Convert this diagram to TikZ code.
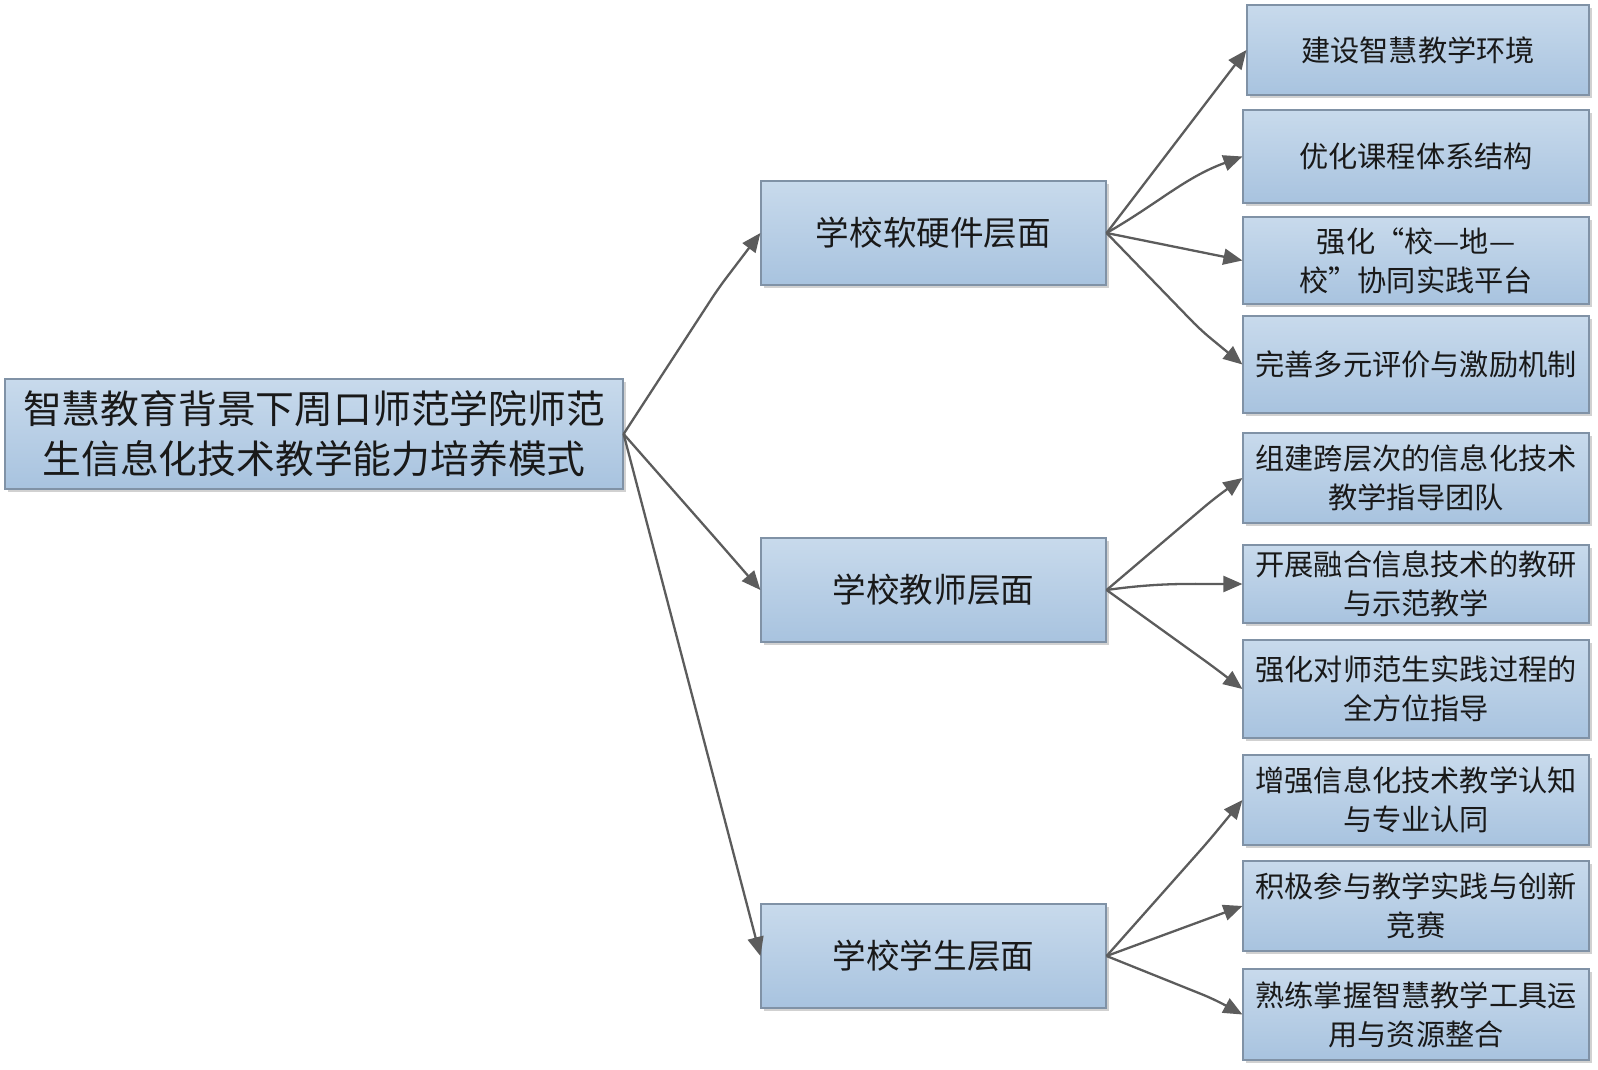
\documentclass[tikz,border=0pt]{standalone}
\usepackage{fontspec}
\newfontfamily\cjk{Noto Sans CJK SC}
\usetikzlibrary{arrows.meta,shadows,calc}
\definecolor{boxtop}{RGB}{200,218,236}
\definecolor{boxbot}{RGB}{168,195,223}
\definecolor{boxline}{RGB}{128,146,166}
\definecolor{arrcol}{RGB}{92,92,92}
\definecolor{txtcol}{RGB}{25,25,25}
\tikzset{
  boxbase/.style={draw=boxline, line width=0.6pt, top color=boxtop, bottom color=boxbot,
    rectangle, inner sep=0pt, align=center, text=txtcol,
    drop shadow={shadow xshift=1.3pt, shadow yshift=-1.3pt, fill=black!18, opacity=1}},
  rootbox/.style={boxbase, minimum width=309pt, minimum height=55pt,
    font=\cjk\fontsize{19.4pt}{25pt}\selectfont},
  midbox/.style={boxbase, minimum width=172.5pt, minimum height=52pt,
    font=\cjk\fontsize{16.8pt}{20pt}\selectfont},
  leafbox/.style={boxbase, minimum width=173pt,
    font=\cjk\fontsize{14.6pt}{19.4pt}\selectfont},
  arr/.style={draw=arrcol, line width=1.15pt, rounded corners=6pt,
    -{Triangle[length=9.5pt,width=8pt]}, fill=none}
}
\begin{document}
\begin{tikzpicture}[x=0.5pt,y=-0.5pt]
\useasboundingbox (0,0) rectangle (1598,1069);

\node[rootbox] (root) at (314,434) {智慧教育背景下周口师范学院师范\\生信息化技术教学能力培养模式};

\node[midbox] (A) at (933.5,233) {学校软硬件层面};
\node[midbox] (B) at (933.5,590) {学校教师层面};
\node[midbox] (C) at (933.5,956) {学校学生层面};

\node[leafbox, minimum width=171pt, minimum height=45pt] (r1) at (1418,50) {建设智慧教学环境};
\node[leafbox, minimum height=46.5pt] (r2) at (1416,156.5) {优化课程体系结构};
\node[leafbox, minimum height=43.5pt] (r3) at (1416,260.5) {强化“校—地—\\校”协同实践平台};
\node[leafbox, minimum height=48.5pt] (r4) at (1416,364.5) {完善多元评价与激励机制};
\node[leafbox, minimum height=45pt] (r5) at (1416,478) {组建跨层次的信息化技术\\教学指导团队};
\node[leafbox, minimum height=39pt] (r6) at (1416,584) {开展融合信息技术的教研\\与示范教学};
\node[leafbox, minimum height=49pt] (r7) at (1416,689) {强化对师范生实践过程的\\全方位指导};
\node[leafbox, minimum height=45pt] (r8) at (1416,800) {增强信息化技术教学认知\\与专业认同};
\node[leafbox, minimum height=45pt] (r9) at (1416,906) {积极参与教学实践与创新\\竞赛};
\node[leafbox, minimum height=45.5pt] (r10) at (1416,1014.5) {熟练掌握智慧教学工具运\\用与资源整合};

% root to middle
\draw[arr] (root.east) -- ++(95,-146) -- (A.west);
\draw[arr] (root.east) -- ++(95,108) -- (B.west);
\draw[arr] (root.east) -- (C.west);

% A to leaves
\draw[arr] (A.east) -- (r1.west);
\draw[arr] (A.east) to[out=30,in=200] (r2.west);
\draw[arr] (A.east) -- (r3.west);
\draw[arr] (A.east) -- ++(94,97) -- (r4.west);

% B to leaves
\draw[arr] (B.east) -- ++(107,-91) -- (r5.west);
\draw[arr] (B.east) to[out=8,in=180] (r6.west);
\draw[arr] (B.east) -- ++(107,77) -- (r7.west);

% C to leaves
\draw[arr] (C.east) -- ++(102,-115) -- (r8.west);
\draw[arr] (C.east) -- (r9.west);
\draw[arr] (C.east) -- ++(107,43) -- (r10.west);
\end{tikzpicture}
\end{document}
